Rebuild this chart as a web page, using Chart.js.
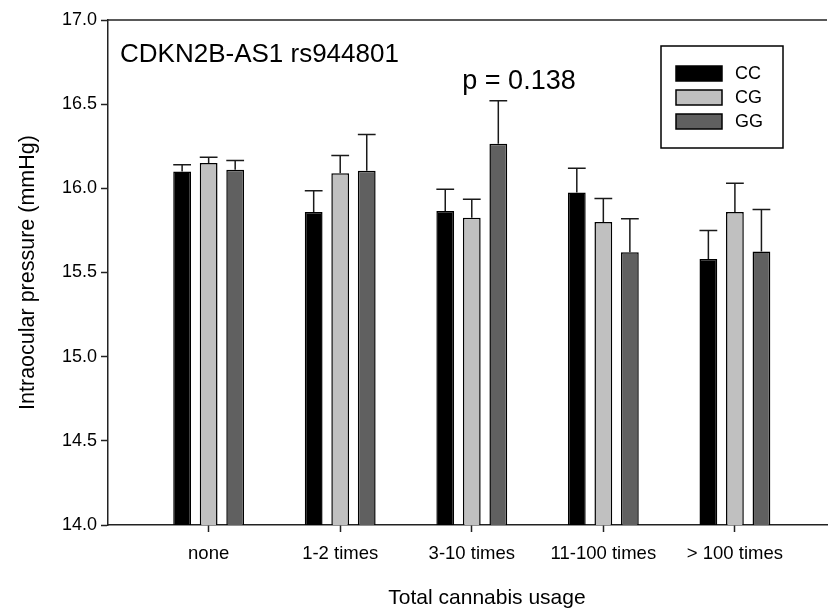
<!DOCTYPE html>
<html><head><meta charset="utf-8">
<script src="https://cdn.jsdelivr.net/npm/chart.js@4/dist/chart.umd.min.js"></script>
<style>html,body{margin:0;padding:0;background:#fff;}#wrap{width:828px;height:612px;}</style>
</head><body><div id="wrap"><canvas id="c" width="828" height="612"></canvas></div>
<script>
const categories = ['none', '1-2 times', '3-10 times', '11-100 times', '> 100 times'];
const seriesNames = ['CC', 'CG', 'GG'];
const ccValues = [16.10, 15.86, 15.865, 15.975, 15.58];
const ccErrors = [0.04, 0.125, 0.13, 0.145, 0.17];
const cgValues = [16.15, 16.09, 15.825, 15.80, 15.86];
const cgErrors = [0.035, 0.105, 0.11, 0.14, 0.17];
const ggValues = [16.11, 16.105, 16.265, 15.62, 15.625];
const ggErrors = [0.055, 0.215, 0.255, 0.20, 0.25];
const yTicks = [14.0, 14.5, 15.0, 15.5, 16.0, 16.5, 17.0];
const chartTitle = 'CDKN2B-AS1 rs944801';
const pLabel = 'p = 0.138';
const xTitle = 'Total cannabis usage';
const yTitle = 'Intraocular pressure (mmHg)';

const FONT = "'Liberation Sans', Arial, sans-serif";
const fills = ['#000000', '#c0c0c0', '#606060'];
const allValues = [ccValues, cgValues, ggValues];
const allErrors = [ccErrors, cgErrors, ggErrors];

const datasets = seriesNames.map((name, k) => ({
  label: name,
  data: allValues[k].map((v, i) => ({ x: i, y: v })),
  errors: allErrors[k],
  backgroundColor: fills[k],
  borderColor: '#000',
  borderWidth: 1.5,
  borderSkipped: false,
  barPercentage: 0.67,
  categoryPercentage: 0.605
}));

const errorBars = {
  id: 'errorBars',
  afterDatasetsDraw(chart) {
    const ctx = chart.ctx, ys = chart.scales.y;
    ctx.save();
    ctx.strokeStyle = '#1a1a1a';
    ctx.lineWidth = 1.5;
    chart.data.datasets.forEach((ds, k) => {
      const meta = chart.getDatasetMeta(k);
      meta.data.forEach((el, i) => {
        const v = ds.data[i].y, e = ds.errors[i];
        const yTop = ys.getPixelForValue(v + e);
        const half = el.width / 2;
        ctx.beginPath();
        ctx.moveTo(el.x, el.y);
        ctx.lineTo(el.x, yTop);
        ctx.moveTo(el.x - half, yTop);
        ctx.lineTo(el.x + half, yTop);
        ctx.stroke();
      });
    });
    ctx.restore();
  }
};

const decorations = {
  id: 'decorations',
  afterDraw(chart) {
    const ctx = chart.ctx, a = chart.chartArea;
    ctx.save();
    // top frame line
    ctx.strokeStyle = '#222';
    ctx.lineWidth = 1.5;
    ctx.beginPath();
    ctx.moveTo(a.left, a.top);
    ctx.lineTo(a.right, a.top);
    ctx.stroke();
    // title texts
    ctx.fillStyle = '#000';
    ctx.textBaseline = 'alphabetic';
    ctx.textAlign = 'left';
    ctx.font = "26px " + FONT;
    ctx.fillText(chartTitle, a.left + 12, a.top + 42);
    ctx.textAlign = 'center';
    ctx.font = "27px " + FONT;
    ctx.fillText(pLabel, 519, a.top + 69);
    // x axis title
    ctx.font = "21px " + FONT;
    ctx.textBaseline = 'middle';
    ctx.fillText(xTitle, 487, 598);
    // legend
    const bx = a.right - 166, by = a.top + 26, bw = 122, bh = 102;
    ctx.lineWidth = 1.5;
    ctx.strokeStyle = '#000';
    ctx.strokeRect(bx, by, bw, bh);
    ctx.font = "18px " + FONT;
    ctx.textAlign = 'left';
    ctx.textBaseline = 'middle';
    chart.data.datasets.forEach((ds, k) => {
      const ry = by + 20 + k * 24;
      ctx.fillStyle = ds.backgroundColor;
      ctx.fillRect(bx + 15, ry, 46, 15);
      ctx.strokeRect(bx + 15, ry, 46, 15);
      ctx.fillStyle = '#000';
      ctx.fillText(ds.label, bx + 74, ry + 8);
    });
    ctx.restore();
  }
};

new Chart(document.getElementById('c'), {
  type: 'bar',
  data: { datasets },
  options: {
    responsive: false,
    animation: false,
    devicePixelRatio: 1,
    layout: { padding: { top: 20, right: 1, bottom: 0, left: 0 } },
    plugins: { legend: { display: false }, tooltip: { enabled: false } },
    scales: {
      x: {
        type: 'linear', min: -0.765, max: 4.7, offset: false,
        afterBuildTicks: s => { s.ticks = categories.map((c, i) => ({ value: i })); },
        ticks: { callback: v => categories[v] ?? '', font: { family: FONT, size: 18.5 }, color: '#000', padding: 11, autoSkip: false, maxRotation: 0 },
        grid: { display: true, offset: false, drawOnChartArea: false, drawTicks: true, tickLength: 7, tickColor: '#222', tickWidth: 1.5 },
        border: { display: true, color: '#222', width: 1.5 },
        title: { display: false },
        afterFit: s => { s.height = 87; }
      },
      y: {
        min: 14, max: 17,
        afterBuildTicks: s => { s.ticks = yTicks.map(v => ({ value: v })); },
        ticks: { callback: v => v.toFixed(1), font: { family: FONT, size: 18 }, color: '#000', padding: 4 },
        grid: { display: true, drawOnChartArea: false, drawTicks: true, tickLength: 7, tickColor: '#222', tickWidth: 1.5 },
        border: { display: true, color: '#222', width: 1.5 },
        title: { display: true, text: yTitle, color: '#000', font: { family: FONT, size: 21.5 }, padding: { top: 15, bottom: 0 } },
        afterFit: s => { s.width = 108; }
      }
    }
  },
  plugins: [errorBars, decorations]
});
</script></body></html>
